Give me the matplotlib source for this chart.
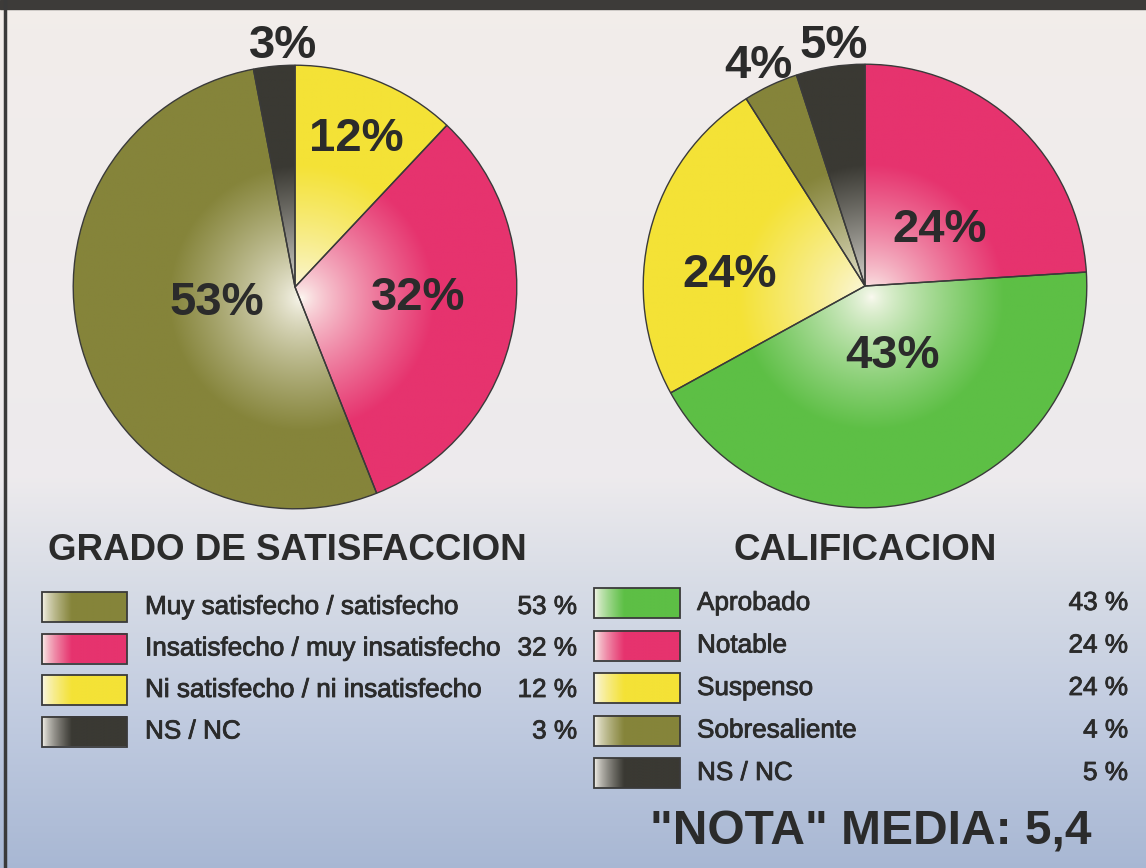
import numpy as np
import matplotlib
matplotlib.use('Agg')
import matplotlib.pyplot as plt
import matplotlib.patheffects as pe
from matplotlib.patches import Rectangle
from matplotlib.colors import to_rgb

# ---------------- data ----------------
sat_title = 'GRADO DE SATISFACCION'
sat_categories = ['Muy satisfecho / satisfecho', 'Insatisfecho / muy insatisfecho',
                  'Ni satisfecho / ni insatisfecho', 'NS / NC']
sat_values = [53, 32, 12, 3]
sat_pie_order = [2, 1, 0, 3]          # clockwise from 12 o'clock

cal_title = 'CALIFICACION'
cal_categories = ['Aprobado', 'Notable', 'Suspenso', 'Sobresaliente', 'NS / NC']
cal_values = [43, 24, 24, 4, 5]
cal_pie_order = [1, 0, 2, 3, 4]

nota_text = '"NOTA" MEDIA: 5,4'

# ---------------- style ----------------
OLIVE, PINK, YELLOW, DARK, GREEN = '#85843a', '#e6336e', '#f4e236', '#3a3933', '#5dbf45'
sat_colors = [OLIVE, PINK, YELLOW, DARK]
cal_colors = [GREEN, PINK, YELLOW, OLIVE, DARK]
TXT = '#2b2b2b'
FONT = 'Liberation Sans'
THICK = [pe.withStroke(linewidth=0.6, foreground=TXT)]

W, H = 1146, 868
fig = plt.figure(figsize=(W / 100, H / 100), dpi=100)

# background
bg = fig.add_axes([0, 0, 1, 1])
bg.set_xlim(0, W)
bg.set_ylim(H, 0)
bg.axis('off')
yy = np.linspace(0, 1, 400)[:, None]
stops_y = [0.0, 0.55, 0.68, 0.82, 1.0]
stops_c = [(0.95, 0.93, 0.92), (0.93, 0.92, 0.93), (0.84, 0.86, 0.90),
           (0.76, 0.80, 0.88), (0.66, 0.72, 0.83)]
grad = np.zeros((400, 1, 3))
for k in range(3):
    grad[:, 0, k] = np.interp(yy[:, 0], stops_y, [c[k] for c in stops_c])
bg.imshow(grad, extent=[0, W, H, 0], aspect='auto', zorder=0)
bg.add_patch(Rectangle((0, 0), W, 9, color='#3d3b39', zorder=1))
bg.plot([5, 5], [0, H], color='#3a3a3a', lw=2.5, zorder=1)


def shaded_pie(cx, cy, r, values, colors, order):
    ax = fig.add_axes([(cx - r) / W, (H - cy - r) / H, 2 * r / W, 2 * r / H])
    ax.axis('off')
    vals = [values[i] for i in order]
    cols = [colors[i] for i in order]
    wedges, _ = ax.pie(vals, colors=cols, startangle=90, counterclock=False,
                       radius=1.0, frame=False,
                       wedgeprops=dict(edgecolor='#3a3a3a', linewidth=1.0))
    ax.set_xlim(-1.01, 1.01)
    ax.set_ylim(-1.01, 1.01)
    n = 500
    xs = np.linspace(-1.01, 1.01, n)
    X, Y = np.meshgrid(xs, xs[::-1])
    R = np.hypot(X - 0.03, Y + 0.05)
    f = np.clip(R / 0.6, 0, 1) ** 0.75
    for w, c in zip(wedges, cols):
        rgb = np.array(to_rgb(c))
        img = (1 - f)[..., None] * np.array([0.99, 0.98, 0.95]) + f[..., None] * rgb
        im = ax.imshow(img, extent=[-1.01, 1.01, -1.01, 1.01], zorder=1.5,
                       interpolation='bilinear')
        im.set_clip_path(w)
        w.set_facecolor('none')
        w.set_zorder(3)
    return ax


shaded_pie(295, 287, 224, sat_values, sat_colors, sat_pie_order)
shaded_pie(865, 286, 224, cal_values, cal_colors, cal_pie_order)

# overlay for all text (drawn above the pies)
top = fig.add_axes([0, 0, 1, 1])
top.set_xlim(0, W)
top.set_ylim(H, 0)
top.axis('off')
top.patch.set_alpha(0)

# pie value labels (pixel positions), in pie order
PFS = 34
sat_label_pos = [(356, 139), (418, 298), (217, 303), (283, 46)]
cal_label_pos = [(940, 230), (893, 356), (730, 275), (758, 66), (834, 46)]
for (x, y), i in zip(sat_label_pos, sat_pie_order):
    top.text(x, y, f'{sat_values[i]}%', fontsize=PFS, fontweight='bold', family=FONT,
             color=TXT, ha='center', va='center', zorder=5)
for (x, y), i in zip(cal_label_pos, cal_pie_order):
    top.text(x, y, f'{cal_values[i]}%', fontsize=PFS, fontweight='bold', family=FONT,
             color=TXT, ha='center', va='center', zorder=5)

# titles
top.text(48, 551, sat_title, fontsize=26.5, fontweight='bold', family=FONT, color=TXT,
         ha='left', va='center', zorder=5)
top.text(865, 551, cal_title, fontsize=26.5, fontweight='bold', family=FONT, color=TXT,
         ha='center', va='center', zorder=5)


def swatch(x, y, w, h, color):
    rgb = np.array(to_rgb(color))
    t = np.linspace(0, 1, 100)[None, :]
    s = np.clip(t / 0.35, 0, 1) ** 0.7
    img = (1 - s)[..., None] * np.array([0.98, 0.97, 0.94]) + s[..., None] * rgb
    img = np.repeat(img, 10, axis=0)
    top.imshow(img, extent=[x, x + w, y + h, y], aspect='auto', zorder=4,
               interpolation='bilinear')
    top.add_patch(Rectangle((x, y), w, h, facecolor='none', edgecolor='#3a3a3a',
                            lw=1.3, zorder=4.5))


LFS = 18.8
# legend left
for k, (lab, v, c) in enumerate(zip(sat_categories, sat_values, sat_colors)):
    yc = 607 + k * 41.5
    swatch(42, yc - 15, 85, 30, c)
    top.text(145, yc, lab, fontsize=LFS, family=FONT, color=TXT, ha='left',
             va='center', zorder=5, path_effects=THICK)
    top.text(577, yc, f'{v} %', fontsize=LFS, family=FONT, color=TXT, ha='right',
             va='center', zorder=5, path_effects=THICK)

# legend right
for k, (lab, v, c) in enumerate(zip(cal_categories, cal_values, cal_colors)):
    yc = 603 + k * 42.5
    swatch(594, yc - 15, 86, 30, c)
    top.text(697, yc, lab, fontsize=LFS, family=FONT, color=TXT, ha='left',
             va='center', zorder=5, path_effects=THICK)
    top.text(1128, yc, f'{v} %', fontsize=LFS, family=FONT, color=TXT, ha='right',
             va='center', zorder=5, path_effects=THICK)

top.text(871, 832, nota_text, fontsize=34.5, fontweight='bold', family=FONT, color=TXT,
         ha='center', va='center', zorder=5)

fig.savefig('out.png', dpi=100)
